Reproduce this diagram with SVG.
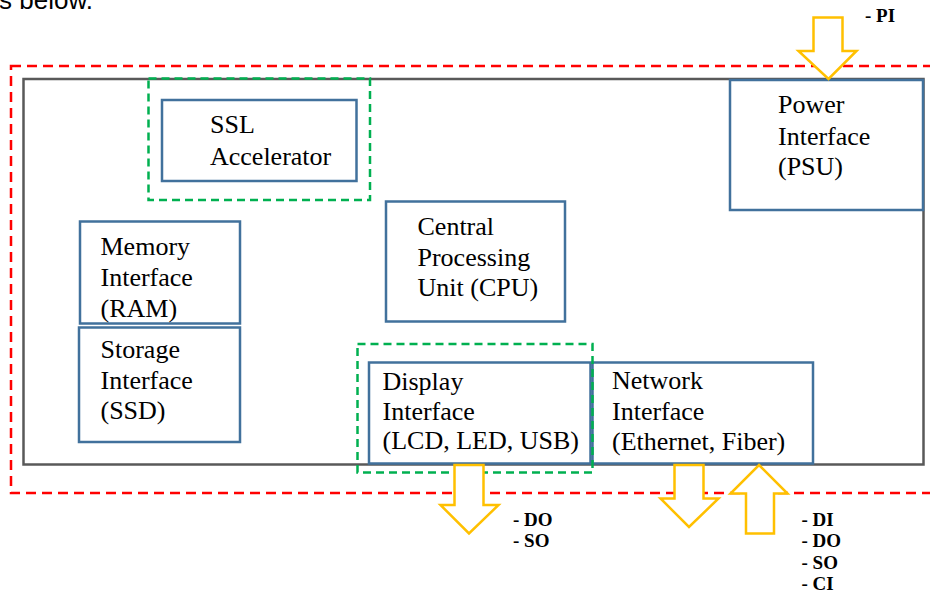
<svg xmlns="http://www.w3.org/2000/svg" width="930" height="599" viewBox="0 0 930 599">
  <style>
    .frame { fill: none; stroke: #595959; stroke-width: 2.5; }
    .boundary { fill: none; stroke: #FF0000; stroke-width: 2.5; stroke-dasharray: 10 6; }
    .group { fill: none; stroke: #00B050; stroke-width: 2.5; stroke-dasharray: 8 5; }
    .box { fill: #FFFFFF; stroke: #41719C; stroke-width: 2.5; }
    .label { font-family: "Liberation Serif", "Times New Roman", serif; font-size: 26px; fill: #000000; }
    .flow { fill: #FFFFFF; stroke: #FFC000; stroke-width: 2.5; stroke-linejoin: miter; }
    .io { font-family: "Liberation Serif", "Times New Roman", serif; font-size: 19px; font-weight: bold; fill: #000000; }
    .lead { font-family: "Liberation Sans", Arial, sans-serif; font-size: 26px; fill: #000000; }
  </style>

  <!-- trailing line of the surrounding paragraph -->
  <text class="lead" x="-1" y="8.5">s below.</text>

  <!-- device chassis -->
  <rect class="frame" x="23.5" y="79" width="900" height="385.5"/>

  <g id="ssl">
    <rect class="box" x="162" y="100" width="194.5" height="81"/>
    <text class="label" x="210" y="133">SSL</text>
    <text class="label" x="210" y="165">Accelerator</text>
  </g>

  <g id="power">
    <rect class="box" x="730" y="80" width="193" height="130"/>
    <text class="label" x="778" y="113">Power</text>
    <text class="label" x="778" y="145">Interface</text>
    <text class="label" x="778" y="175">(PSU)</text>
  </g>

  <g id="memory">
    <rect class="box" x="80" y="221.5" width="160" height="102"/>
    <text class="label" x="100.5" y="255">Memory</text>
    <text class="label" x="100.5" y="286">Interface</text>
    <text class="label" x="100.5" y="316.5">(RAM)</text>
  </g>

  <g id="storage">
    <rect class="box" x="79" y="327.5" width="161" height="114.5"/>
    <text class="label" x="100.5" y="358">Storage</text>
    <text class="label" x="100.5" y="389">Interface</text>
    <text class="label" x="100.5" y="419">(SSD)</text>
  </g>

  <g id="cpu">
    <rect class="box" x="386" y="201.5" width="179" height="120"/>
    <text class="label" x="417.5" y="235">Central</text>
    <text class="label" x="417.5" y="265.5">Processing</text>
    <text class="label" x="417.5" y="296">Unit (CPU)</text>
  </g>

  <g id="display">
    <rect class="box" x="369" y="362.5" width="221.5" height="101"/>
    <text class="label" x="382.5" y="390">Display</text>
    <text class="label" x="382.5" y="420">Interface</text>
    <text class="label" x="382.5" y="449">(LCD, LED, USB)</text>
  </g>

  <g id="network">
    <rect class="box" x="592.5" y="362.5" width="220.5" height="101"/>
    <text class="label" x="612" y="389">Network</text>
    <text class="label" x="612" y="420">Interface</text>
    <text class="label" x="612" y="450">(Ethernet, Fiber)</text>
  </g>

  <!-- security boundary and protected groups -->
  <g id="boundaries">
    <rect class="boundary" x="11" y="66" width="935" height="427"/>
    <rect class="group" x="148.5" y="78.5" width="221.5" height="121.5"/>
    <rect class="group" x="357.5" y="344" width="235" height="128.5"/>
  </g>

  <!-- interface flows -->
  <g id="connectors">
    <!-- power in -->
    <polygon class="flow" points="813.5,17.5 842.5,17.5 842.5,51 856.5,51 828.5,79 798.5,51 813.5,51"/>
    <!-- display out -->
    <polygon class="flow" points="454.5,465 483.5,465 483.5,505 498.5,505 469,533.5 440.5,505 454.5,505"/>
    <!-- network out -->
    <polygon class="flow" points="674.5,465 703.5,465 703.5,498.5 718.5,498.5 689,527 660.5,498.5 674.5,498.5"/>
    <!-- network in -->
    <polygon class="flow" points="759,465 787.5,493.5 774,493.5 774,533.5 746,533.5 746,493.5 730.5,493.5"/>
  </g>

  <g id="flow-labels">
    <text class="io" x="865" y="21.5">- PI</text>
    <text class="io" x="513" y="525.5">- DO</text>
    <text class="io" x="513" y="547">- SO</text>
    <text class="io" x="801.5" y="525.5">- DI</text>
    <text class="io" x="801.5" y="547">- DO</text>
    <text class="io" x="801.5" y="568.5">- SO</text>
    <text class="io" x="801.5" y="590">- CI</text>
  </g>
</svg>
